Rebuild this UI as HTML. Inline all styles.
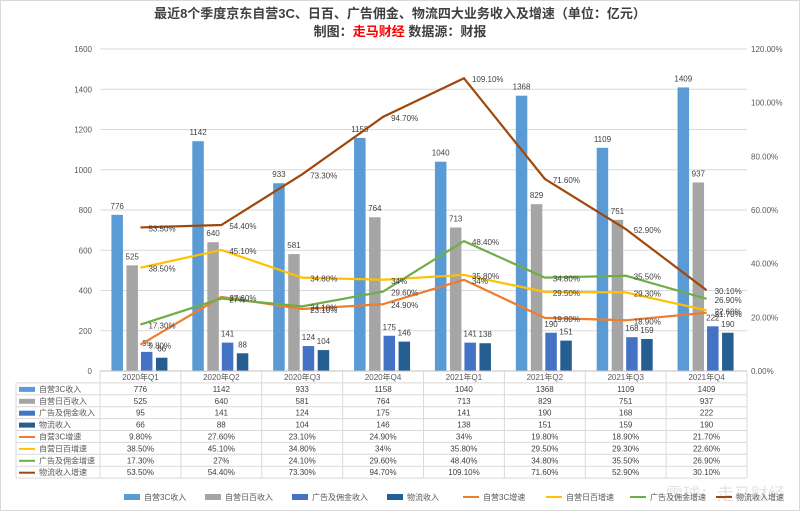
<!DOCTYPE html>
<html><head><meta charset="utf-8"><style>
body{margin:0;background:#fff;}
svg{display:block;font-family:"Liberation Sans","Noto Sans CJK SC",sans-serif;}
</style></head><body>
<svg id="s" width="800" height="511" viewBox="0 0 800 511" xmlns="http://www.w3.org/2000/svg">
<rect x="0.5" y="0.5" width="799" height="510" fill="#fff" stroke="#d9d9d9"/>
<text x="400" y="18" text-anchor="middle" font-size="13" font-weight="bold" fill="#404040">最近8个季度京东自营3C、日百、广告佣金、物流四大业务收入及增速（单位：亿元）</text>
<text x="400" y="36" text-anchor="middle" font-size="13" font-weight="bold" fill="#404040">制图：<tspan fill="#ff0000">走马财经</tspan> 数据源：财报</text>
<text x="785" y="500" font-size="17" fill="#e3e3e3" text-anchor="end">雪球：走马财经</text>
<g id="g"></g>
</svg>
<script>
var g=document.getElementById('g'),h='';
var L=100,R=747,T=49,B=371,W=(R-L)/8;
var cats=['2020年Q1','2020年Q2','2020年Q3','2020年Q4','2021年Q1','2021年Q2','2021年Q3','2021年Q4'];
var bars=[[776,1142,933,1158,1040,1368,1109,1409],[525,640,581,764,713,829,751,937],[95,141,124,175,141,190,168,222],[66,88,104,146,138,151,159,190]];
var bc=['#5B9BD5','#A5A5A5','#4472C4','#255E91'];
var lines=[[9.8,27.6,23.1,24.9,34,19.8,18.9,21.7],[38.5,45.1,34.8,34,35.8,29.5,29.3,22.6],[17.3,27,24.1,29.6,48.4,34.8,35.5,26.9],[53.5,54.4,73.3,94.7,109.1,71.6,52.9,30.1]];
var lt=[['9.80%','27.60%','23.10%','24.90%','34%','19.80%','18.90%','21.70%'],['38.50%','45.10%','34.80%','34%','35.80%','29.50%','29.30%','22.60%'],['17.30%','27%','24.10%','29.60%','48.40%','34.80%','35.50%','26.90%'],['53.50%','54.40%','73.30%','94.70%','109.10%','71.60%','52.90%','30.10%']];
var lc=['#ED7D31','#FFC000','#70AD47','#9E480E'];
var names=['自营3C收入','自营日百收入','广告及佣金收入','物流收入','自营3C增速','自营日百增速','广告及佣金增速','物流收入增速'];
function yv(v){return B-v/1600*(B-T);}
function yp(v){return B-v/120*(B-T);}
for(var i=0;i<=8;i++){var y=B-i*(B-T)/8;
 h+='<line x1="'+L+'" x2="'+R+'" y1="'+y+'" y2="'+y+'" stroke="#d9d9d9" stroke-width="1"/>';
 h+='<text x="'+(L-8)+'" y="'+(y+3)+'" text-anchor="end" font-size="8" fill="#595959">'+(i*200)+'</text>';}
for(var i=0;i<=6;i++){var y=B-i*(B-T)/6;
 h+='<text x="'+(R+4)+'" y="'+(y+3)+'" font-size="8" fill="#595959">'+(i*20).toFixed(2)+'%</text>';}
var off=[-29,-14,0.5,15.5];
for(var s=0;s<4;s++)for(var c=0;c<8;c++){var cx=L+W*(c+0.5),v=bars[s][c],y=yv(v);
 h+='<rect x="'+(cx+off[s])+'" y="'+y+'" width="11.5" height="'+(B-y)+'" fill="'+bc[s]+'"/>';
 h+='<text x="'+(cx+off[s]+5.75)+'" y="'+(y-6)+'" text-anchor="middle" font-size="8" fill="#404040">'+v+'</text>';}
for(var s=0;s<4;s++){var p='';for(var c=0;c<8;c++)p+=(L+W*(c+0.5))+','+yp(lines[s][c])+' ';
 h+='<polyline points="'+p+'" fill="none" stroke="'+lc[s]+'" stroke-width="2.2"/>';}
for(var s=0;s<4;s++)for(var c=0;c<8;c++){var x=L+W*(c+0.5)+8,y=yp(lines[s][c])+4;
 h+='<text x="'+x+'" y="'+y+'" font-size="8" fill="#404040">'+lt[s][c]+'</text>';}
var rh=11.9,t0=B;
h+='<line x1="'+L+'" x2="'+R+'" y1="'+t0+'" y2="'+t0+'" stroke="#bfbfbf"/>';
for(var c=0;c<=8;c++){var x=L+W*c;h+='<line x1="'+x+'" x2="'+x+'" y1="'+t0+'" y2="'+(t0+rh*9)+'" stroke="#d9d9d9"/>';}
h+='<line x1="16" x2="16" y1="'+(t0+rh)+'" y2="'+(t0+rh*9)+'" stroke="#d9d9d9"/>';
for(var c=0;c<8;c++)h+='<text x="'+(L+W*(c+0.5))+'" y="'+(t0+9)+'" text-anchor="middle" font-size="8" fill="#595959">'+cats[c]+'</text>';
for(var r=0;r<8;r++){var y=t0+rh*(r+1);
 h+='<line x1="16" x2="'+R+'" y1="'+y+'" y2="'+y+'" stroke="#d9d9d9"/>';
 if(r<4)h+='<rect x="19" y="'+(y+4)+'" width="16" height="5" fill="'+bc[r]+'"/>';
 else h+='<rect x="19" y="'+(y+5.5)+'" width="16" height="2" fill="'+lc[r-4]+'"/>';
 h+='<text x="39" y="'+(y+9)+'" font-size="8" fill="#595959">'+names[r]+'</text>';
 for(var c=0;c<8;c++){var tx=r<4?bars[r][c]:lt[r-4][c];
  h+='<text x="'+(L+W*(c+0.5))+'" y="'+(y+9)+'" text-anchor="middle" font-size="8" fill="#404040">'+tx+'</text>';}}
h+='<line x1="16" x2="'+R+'" y1="'+(t0+rh*9)+'" y2="'+(t0+rh*9)+'" stroke="#d9d9d9"/>';
var lx=[124,205,292,387,463,546,630,716];
for(var i=0;i<8;i++){var x=lx[i];
 if(i<4)h+='<rect x="'+x+'" y="'+494+'" width="16" height="6" fill="'+bc[i]+'"/>';
 else h+='<rect x="'+x+'" y="'+496+'" width="16" height="2" fill="'+lc[i-4]+'"/>';
 h+='<text x="'+(x+20)+'" y="'+500+'" font-size="8" fill="#595959">'+names[i]+'</text>';}
g.innerHTML=h;
</script>
</body></html>
